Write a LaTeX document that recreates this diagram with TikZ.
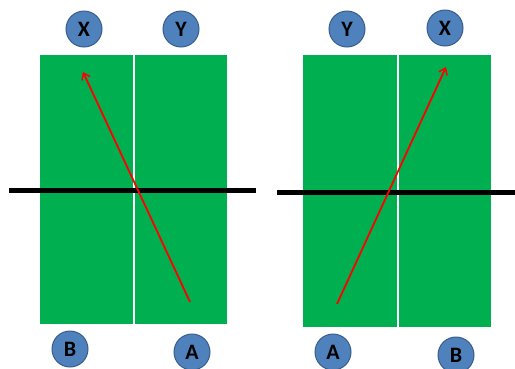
\documentclass[tikz,border=0pt]{standalone}
\usepackage{fontspec}
\setmainfont{Carlito}
\usetikzlibrary{arrows.meta}
\definecolor{court}{HTML}{00B050}
\definecolor{ballfill}{HTML}{4F81BD}
\definecolor{ballline}{HTML}{385D8A}
\tikzset{
  half/.style={fill=court, draw=none},
  player/.style={circle, fill=ballfill, draw=ballline, line width=1pt, minimum size=36pt, inner sep=0pt, font=\fontsize{22}{22}\selectfont\bfseries},
  net/.style={line width=5pt, black},
  shot/.style={red, line width=1.8pt, -{Straight Barb[length=6pt,width=9pt,line width=1.5pt]}}
}
\begin{document}
\begin{tikzpicture}[x=1pt,y=-1pt]
\useasboundingbox (0,0) rectangle (515,368);
% left court
\fill[half] (40,55) rectangle (132.5,324);
\fill[half] (134.5,55) rectangle (227,324);
\coordinate (nl1) at (9,190.5);
\coordinate (nl2) at (256,190.5);
\draw[net] (nl1) -- (nl2);
\coordinate (la) at (190,302);
\coordinate (lx) at (83,72);
\draw[shot] (la) -- (lx);
\node[player] (X1) at (84,29) {X};
\node[player] (Y1) at (181,29) {Y};
\node[player] (B1) at (70,349) {B};
\node[player] (A1) at (192,352) {A};
% right court
\fill[half] (303,55) rectangle (396.5,327);
\fill[half] (398.5,55) rectangle (491,327);
\coordinate (nr1) at (277,192);
\coordinate (nr2) at (515,192);
\draw[net] (nr1) -- (nr2);
\coordinate (ra) at (337,304);
\coordinate (rx) at (446,67);
\draw[shot] (ra) -- (rx);
\node[player] (Y2) at (347,29) {Y};
\node[player] (X2) at (445,28) {X};
\node[player] (A2) at (333,352) {A};
\node[player] (B2) at (456,355) {B};
\end{tikzpicture}
\end{document}
